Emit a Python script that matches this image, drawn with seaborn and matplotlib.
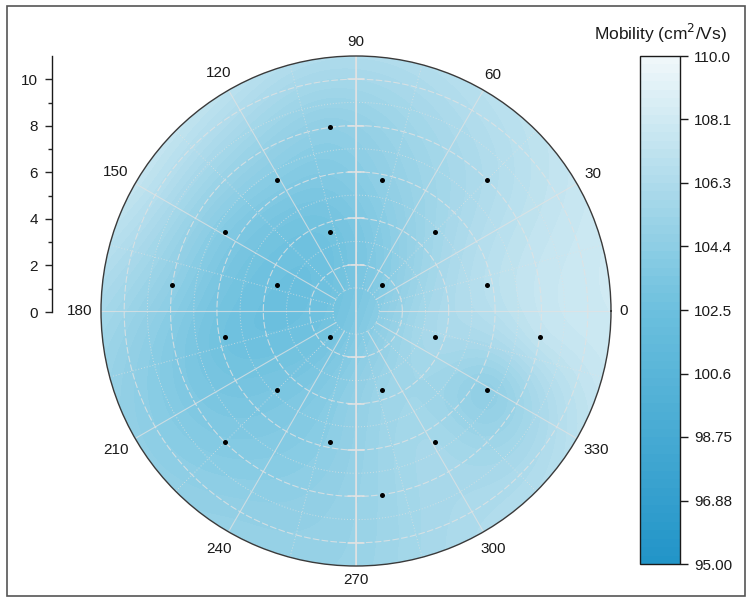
import numpy as np
import matplotlib
matplotlib.use("Agg")
import matplotlib.pyplot as plt
import seaborn as sns
from matplotlib.colors import LinearSegmentedColormap
from matplotlib.patches import Rectangle

# ---------------- data ----------------
# measurement points on a Cartesian grid (radial units), with mobility values
pt_x = [-1.13, -3.39, 1.13, 5.66, -5.66, -1.13, 3.39, -7.92, -3.39, 1.13, 5.66,
        -5.66, -1.13, 3.39, 7.92, -3.39, 1.13, 5.66, -5.66, -1.13, 3.39, 1.13]
pt_y = [7.92, 5.66, 5.66, 5.66, 3.39, 3.39, 3.39, 1.13, 1.13, 1.13, 1.13,
        -1.13, -1.13, -1.13, -1.13, -3.39, -3.39, -3.39, -5.66, -5.66, -5.66, -7.92]
pt_val = [104.5, 104.0, 104.5, 106.3, 103.8, 102.8, 105.5, 104.5, 102.5, 104.0, 106.8,
          102.7, 103.0, 106.0, 107.3, 103.3, 105.2, 104.5, 103.8, 104.3, 105.8, 105.3]
# values read at the rim of the wafer (every 30 degrees, r = 11)
rim_angle = [0, 30, 60, 90, 120, 150, 180, 210, 240, 270, 300, 330]
rim_val = [108.0, 107.6, 106.8, 106.3, 107.0, 107.4, 105.8, 104.6, 104.9, 105.1, 106.3, 107.0]

angle_ticks = [0, 30, 60, 90, 120, 150, 180, 210, 240, 270, 300, 330]
cbar_ticks = [95.0, 96.875, 98.75, 100.625, 102.5, 104.375, 106.25, 108.125, 110.0]
cbar_labels = ["95.00", "96.88", "98.75", "100.6", "102.5", "104.4", "106.3", "108.1", "110.0"]
r_ticks = [0, 2, 4, 6, 8, 10]
R_MAX = 11.0
V_MIN, V_MAX = 95.0, 110.0

# ---------------- interpolation surface (thin plate spline) ----------------
rim_rad = np.deg2rad(rim_angle)
sx = np.concatenate([np.array(pt_x), R_MAX * np.cos(rim_rad)])
sy = np.concatenate([np.array(pt_y), R_MAX * np.sin(rim_rad)])
sv = np.concatenate([np.array(pt_val), np.array(rim_val)])


def tps_kernel(d):
    with np.errstate(divide="ignore", invalid="ignore"):
        k = d ** 2 * np.log(d)
    return np.nan_to_num(k)


n = len(sx)
D = np.hypot(sx[:, None] - sx[None, :], sy[:, None] - sy[None, :])
K = tps_kernel(D) + 0.5 * np.eye(n)
P = np.column_stack([np.ones(n), sx, sy])
A = np.zeros((n + 3, n + 3))
A[:n, :n] = K
A[:n, n:] = P
A[n:, :n] = P.T
b = np.concatenate([sv, np.zeros(3)])
coef = np.linalg.solve(A, b)
w, a = coef[:n], coef[n:]

th = np.linspace(0, 2 * np.pi, 361)
rr = np.linspace(0, R_MAX, 120)
TH, RR = np.meshgrid(th, rr)
GX, GY = RR * np.cos(TH), RR * np.sin(TH)
dg = np.hypot(GX[..., None] - sx, GY[..., None] - sy)
Z = tps_kernel(dg) @ w + a[0] + a[1] * GX + a[2] * GY
Z = np.clip(Z, V_MIN, V_MAX)

# ---------------- figure ----------------
sns.set_style("white")
plt.rcParams["font.family"] = ["Liberation Sans", "DejaVu Sans"]

W, H = 749, 601
fig = plt.figure(figsize=(W / 100, H / 100), dpi=100)

cmap = LinearSegmentedColormap.from_list(
    "mob", [(0.0, "#2194c8"), (0.5, "#6cc0de"), (0.75, "#aedbeb"), (1.0, "#f1f8fa")])

TXT = "#1a1a1a"
cx, cy, rad = 356, 311, 255
ax = fig.add_axes([(cx - rad) / W, 1 - (cy + rad) / H, 2 * rad / W, 2 * rad / H],
                  projection="polar")
levels = np.linspace(V_MIN, V_MAX, 61)
cs = ax.contourf(TH, RR, Z, levels=levels, cmap=cmap, vmin=V_MIN, vmax=V_MAX)

# grid lines
grid_c = "#e2e2e2"
for r in [2, 4, 6, 8, 10]:
    ax.plot(th, np.full_like(th, r), color=grid_c, lw=0.8, ls=(0, (6, 2)), alpha=0.8, zorder=2)
for r in [1, 3, 5, 7, 9]:
    ax.plot(th, np.full_like(th, r), color=grid_c, lw=0.7, ls=(0, (1, 2)), alpha=0.7, zorder=2)
for ang in range(0, 360, 30):
    ax.plot([np.deg2rad(ang)] * 2, [1.0, R_MAX], color=grid_c, lw=0.8, alpha=0.75, zorder=2)
for ang in range(15, 360, 30):
    ax.plot([np.deg2rad(ang)] * 2, [1, R_MAX], color=grid_c, lw=0.7, ls=(0, (1, 2)),
            alpha=0.7, zorder=2)
# vertical axis line with small cross ticks
ax.plot([np.pi / 2] * 2, [0, R_MAX], color=grid_c, lw=1.1, zorder=2)
ax.plot([3 * np.pi / 2] * 2, [0, R_MAX], color=grid_c, lw=1.1, zorder=2)
for r in [2, 4, 6, 8, 10]:
    for sgn in (1, -1):
        xs = np.array([-0.35, 0.35])
        ys = np.array([sgn * r, sgn * r])
        ax.plot(np.arctan2(ys, xs), np.hypot(xs, ys), color=grid_c, lw=1.1, zorder=2)

ax.grid(False)
ax.set_ylim(0, R_MAX)
ax.set_yticks([])
ax.set_xticks([])
ax.spines["polar"].set_color("#3a3a3a")
ax.spines["polar"].set_linewidth(1.0)

# angle labels placed just outside the rim
for a_ in angle_ticks:
    lab = str(a_)
    t = np.deg2rad(a_)
    hw = len(lab) * 4.15
    hh = 6.0
    dist_px = 8.5 + abs(np.cos(t)) * hw + abs(np.sin(t)) * hh
    ax.annotate(lab, xy=(t, R_MAX), xytext=(np.cos(t) * dist_px * 0.72, np.sin(t) * dist_px * 0.72),
                textcoords="offset points", ha="center", va="center",
                fontsize=11, color=TXT, annotation_clip=False)

# measurement points
pth = np.arctan2(pt_y, pt_x)
pr = np.hypot(pt_x, pt_y)
sns.scatterplot(x=pth, y=pr, ax=ax, color="black", s=13, linewidth=0, zorder=5, legend=False)
ax.set_xlabel("")
ax.set_ylabel("")

# left radial scale
rax = fig.add_axes([52 / W, 1 - (cy + 1) / H, 0.001, 256 / H])
rax.set_ylim(0, R_MAX)
rax.set_xticks([])
rax.set_yticks(r_ticks)
rax.set_yticks([1, 3, 5, 7, 9], minor=True)
rax.set_yticklabels([str(t) for t in r_ticks], fontsize=11, color=TXT)
for s in ["top", "right", "bottom"]:
    rax.spines[s].set_visible(False)
rax.spines["left"].set_color(TXT)
rax.spines["left"].set_linewidth(1.0)
rax.tick_params(axis="y", which="major", direction="out", length=5, width=1, pad=5, left=True)
rax.tick_params(axis="y", which="minor", direction="out", length=3, width=1, left=True)
rax.patch.set_visible(False)

# colorbar
cax = fig.add_axes([640 / W, 1 - 564 / H, 40 / W, 508 / H])
cb = fig.colorbar(cs, cax=cax)
cb.set_ticks(cbar_ticks)
cb.set_ticklabels(cbar_labels)
cax.tick_params(axis="y", direction="out", length=6, width=1, labelsize=11,
                colors=TXT, pad=4)
cb.outline.set_edgecolor(TXT)
cb.outline.set_linewidth(1.0)
fig.text(660 / W, 1 - 33 / H, "Mobility (cm$^2$/Vs)", ha="center", va="center",
         fontsize=12.5, color=TXT)

# outer frame
fig.patches.append(Rectangle((7 / W, 1 - 596 / H), 738 / W, 590 / H, transform=fig.transFigure,
                             fill=False, edgecolor="#555555", lw=1.2))

fig.savefig("out.png", dpi=100)
